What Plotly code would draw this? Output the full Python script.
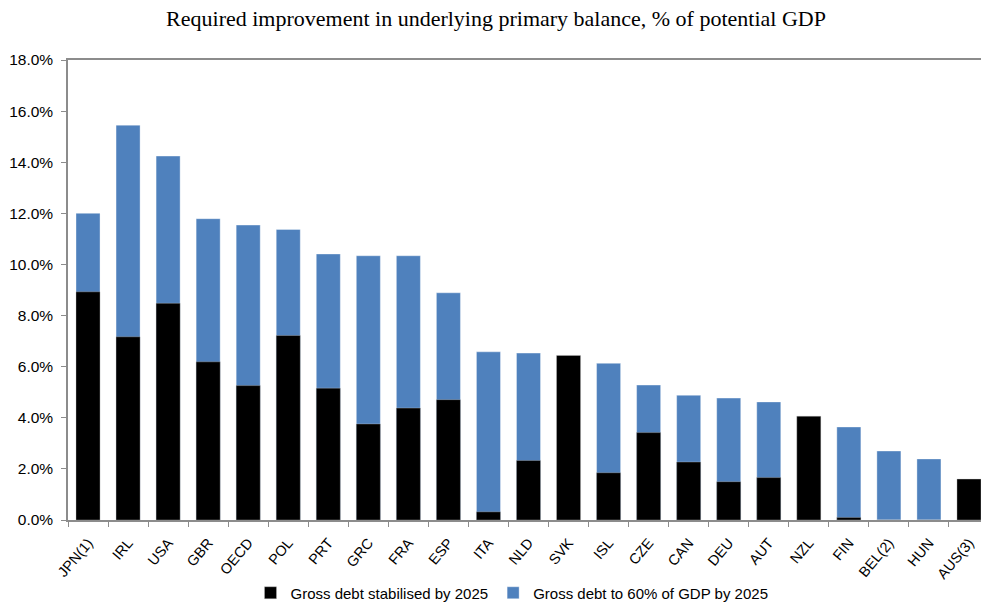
import plotly.graph_objects as go

countries = ["JPN(1)", "IRL", "USA", "GBR", "OECD", "POL", "PRT", "GRC", "FRA", "ESP", "ITA",
             "NLD", "SVK", "ISL", "CZE", "CAN", "DEU", "AUT", "NZL", "FIN", "BEL(2)", "HUN", "AUS(3)"]
stabilised = [8.93, 7.17, 8.48, 6.19, 5.26, 7.22, 5.16, 3.76, 4.38, 4.71, 0.32,
              2.33, 6.44, 1.85, 3.42, 2.27, 1.50, 1.66, 4.06, 0.10, 0.0, 0.0, 1.60]
to_60 = [12.0, 15.45, 14.24, 11.79, 11.54, 11.37, 10.41, 10.34, 10.34, 8.89, 6.58,
         6.53, 0.0, 6.13, 5.28, 4.88, 4.77, 4.62, 0.0, 3.64, 2.70, 2.39, 0.0]

y_ticks = [0, 2, 4, 6, 8, 10, 12, 14, 16, 18]
y_labels = [f"{v:.1f}%" for v in y_ticks]

W, H = 981, 597  # page body offsets the figure by 8px

fig = go.Figure()
fig.add_trace(go.Bar(x=countries, y=to_60, name="Gross debt to 60% of GDP by 2025",
                     marker=dict(color="#4F81BD", line=dict(color="rgba(255,255,255,0.6)", width=0.6)),
                     width=0.6, legendrank=2))
fig.add_trace(go.Bar(x=countries, y=stabilised, name="Gross debt stabilised by 2025",
                     marker=dict(color="#000000", line=dict(color="rgba(200,200,200,0.6)", width=0.6)),
                     width=0.6, legendrank=1))

fig.update_layout(
    width=W, height=H,
    barmode="overlay",
    plot_bgcolor="white", paper_bgcolor="white",
    margin=dict(l=60, r=0, t=52, b=85, autoexpand=False),
    title=dict(text="Required improvement in underlying primary balance, % of potential GDP",
               x=488 / W, xref="container", xanchor="center",
               y=1.0, yref="container", yanchor="top", pad=dict(t=3),
               font=dict(family="Liberation Serif, Times New Roman, serif", size=22, color="#000")),
    legend=dict(orientation="h", xref="container", x=504 / W, xanchor="center",
                yref="container", y=1 - 585 / H, yanchor="middle",
                bgcolor="rgba(0,0,0,0)",
                font=dict(family="Liberation Sans Narrow, Arial Narrow, Liberation Sans, Arial", size=15, color="#000"),
                itemwidth=30, traceorder="normal"),
    showlegend=True,
)
fig.update_xaxes(type="category", showline=True, linecolor="#8c8c8c", linewidth=1.5, mirror=True,
                 ticks="outside", tickson="boundaries", ticklen=5, tickcolor="#8c8c8c",
                 tickangle=-50, showgrid=False, automargin=False, ticklabelstandoff=7,
                 tickfont=dict(family="Liberation Sans, Arial", size=14.5, color="#000"))
fig.update_yaxes(range=[0, 18], tickvals=y_ticks, ticktext=y_labels, showline=True,
                 linecolor="#8c8c8c", linewidth=1.5, ticks="outside", ticklen=5, tickcolor="#8c8c8c",
                 showgrid=False, zeroline=False, automargin=False, ticklabelstandoff=5,
                 tickfont=dict(family="Liberation Sans, Arial", size=15.5, color="#000"))

fig.write_html("out.html")
